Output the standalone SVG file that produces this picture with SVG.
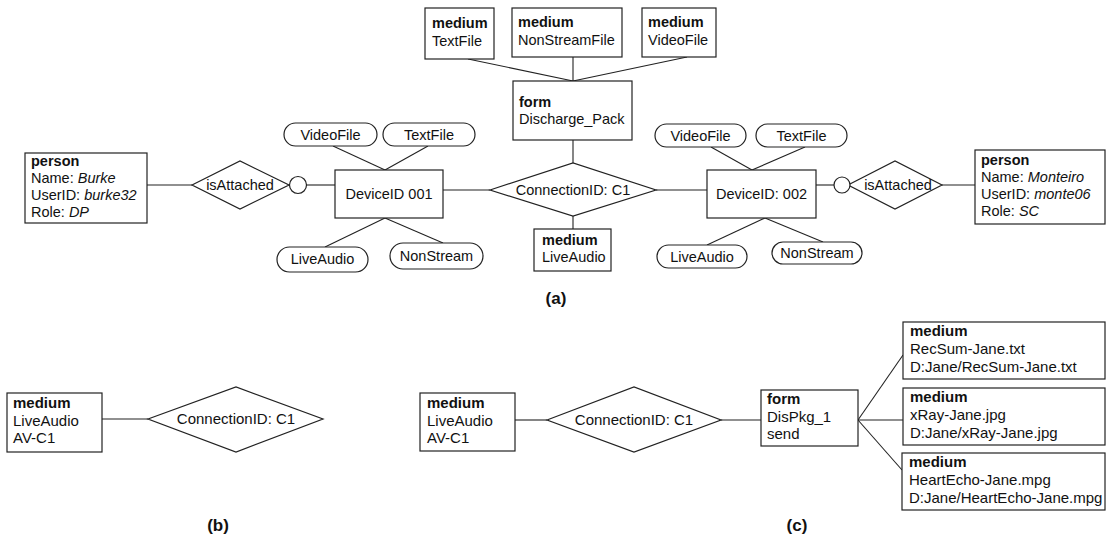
<svg xmlns="http://www.w3.org/2000/svg" width="1107" height="538" viewBox="0 0 1107 538">
<style>
.b{fill:#fff;stroke:#222;stroke-width:1.2}
.c line,.c path{stroke:#222;stroke-width:1.1;fill:none}
text{font-family:"Liberation Sans",Arial,sans-serif;font-size:14.5px;fill:#111}
.k{font-weight:bold}
.m{text-anchor:middle}
.i{font-style:italic}
.s text{font-size:15px}
.lab{font-weight:bold;font-size:17px;text-anchor:middle}
</style>
<rect width="1107" height="538" fill="#fff"/>
<g class="c" id="connectors">
<line x1="147" y1="185" x2="192" y2="185"/>
<line x1="306" y1="185" x2="335" y2="185"/>
<line x1="333" y1="146" x2="385" y2="170"/>
<line x1="428" y1="146" x2="385" y2="170"/>
<line x1="385" y1="218" x2="325" y2="247"/>
<line x1="385" y1="218" x2="443" y2="243"/>
<line x1="443" y1="190" x2="490" y2="190"/>
<line x1="656" y1="190" x2="707" y2="190"/>
<line x1="468" y1="59" x2="573" y2="81"/>
<line x1="573" y1="57" x2="573" y2="81"/>
<line x1="687" y1="57" x2="573" y2="81"/>
<line x1="573" y1="140" x2="573" y2="163"/>
<line x1="573" y1="216" x2="573" y2="229"/>
<line x1="711" y1="147" x2="752" y2="170"/>
<line x1="805" y1="147" x2="752" y2="170"/>
<line x1="765" y1="218" x2="707" y2="245"/>
<line x1="765" y1="218" x2="823" y2="242"/>
<line x1="816" y1="185" x2="834" y2="185"/>
<line x1="942" y1="185" x2="975" y2="185"/>
<line x1="102" y1="419" x2="148" y2="419"/>
<line x1="515" y1="420" x2="547" y2="420"/>
<line x1="721" y1="420" x2="761" y2="420"/>
<line x1="858" y1="420" x2="903" y2="355"/>
<line x1="858" y1="420" x2="903" y2="420"/>
<line x1="858" y1="420" x2="902" y2="470"/>
</g>
<g id="person-burke"><rect class="b" x="25" y="153" width="122" height="70"/>
<text x="31" y="166" class="k">person</text><text x="31" y="183">Name: <tspan class="i">Burke</tspan></text><text x="31" y="200">UserID: <tspan class="i">burke32</tspan></text><text x="31" y="217">Role: <tspan class="i">DP</tspan></text></g>
<g id="isAttached-left"><polygon class="b" points="192,185 240,161 289,185 240,209"/><text x="240" y="190" class="m">isAttached</text></g>
<g id="circle-left"><circle class="b" cx="298" cy="185" r="8.5"/></g>
<g id="device-001"><rect class="b" x="335" y="170" width="108" height="48"/><text x="389" y="199" class="m">DeviceID 001</text></g>
<g id="e-video-1"><rect class="b" x="284" y="123" width="93" height="23" rx="11.5"/><text x="330.5" y="140" class="m">VideoFile</text></g>
<g id="e-text-1"><rect class="b" x="383" y="123" width="92" height="23" rx="11.5"/><text x="429" y="140" class="m">TextFile</text></g>
<g id="e-live-1"><rect class="b" x="277" y="247" width="91" height="25" rx="12.5"/><text x="322.5" y="264" class="m">LiveAudio</text></g>
<g id="e-non-1"><rect class="b" x="390" y="243" width="93" height="26" rx="13"/><text x="436.5" y="261" class="m">NonStream</text></g>
<g id="medium-textfile"><rect class="b" x="425" y="8" width="69" height="51"/><text x="432" y="28" class="k">medium</text><text x="432" y="46">TextFile</text></g>
<g id="medium-nonstreamfile"><rect class="b" x="512" y="8" width="110" height="49"/><text x="518" y="27" class="k">medium</text><text x="518" y="45">NonStreamFile</text></g>
<g id="medium-videofile"><rect class="b" x="642" y="8" width="74" height="49"/><text x="648" y="27" class="k">medium</text><text x="648" y="45">VideoFile</text></g>
<g id="form-discharge"><rect class="b" x="513" y="81" width="119" height="59"/><text x="519" y="107" class="k">form</text><text x="519" y="124">Discharge_Pack</text></g>
<g id="conn-a"><polygon class="b" points="490,190 573,163 656,190 573,216"/><text x="573" y="195" class="m">ConnectionID: C1</text></g>
<g id="medium-liveaudio-a"><rect class="b" x="534" y="229" width="77" height="42"/><text x="542" y="245" class="k">medium</text><text x="542" y="262">LiveAudio</text></g>
<g id="device-002"><rect class="b" x="707" y="170" width="109" height="48"/><text x="761.5" y="199" class="m">DeviceID: 002</text></g>
<g id="e-video-2"><rect class="b" x="655" y="124" width="91" height="23" rx="11.5"/><text x="700.5" y="141" class="m">VideoFile</text></g>
<g id="e-text-2"><rect class="b" x="756" y="124" width="91" height="23" rx="11.5"/><text x="801.5" y="141" class="m">TextFile</text></g>
<g id="e-live-2"><rect class="b" x="657" y="245" width="90" height="23" rx="11.5"/><text x="702" y="262" class="m">LiveAudio</text></g>
<g id="e-non-2"><rect class="b" x="772" y="242" width="90" height="22" rx="11"/><text x="817" y="258" class="m">NonStream</text></g>
<g id="isAttached-right"><polygon class="b" points="848,185 895,161 942,185 895,209"/><text x="898" y="190" class="m">isAttached</text></g>
<g id="circle-right"><circle class="b" cx="842" cy="185" r="8"/></g>
<g id="person-monteiro"><rect class="b" x="975" y="150" width="130" height="74"/>
<text x="981" y="165" class="k">person</text><text x="981" y="182">Name: <tspan class="i">Monteiro</tspan></text><text x="981" y="199">UserID: <tspan class="i">monte06</tspan></text><text x="981" y="216">Role: <tspan class="i">SC</tspan></text></g>
<text x="556" y="304" class="lab">(a)</text>
<g id="medium-liveaudio-b" class="s"><rect class="b" x="7" y="393" width="95" height="59"/><text x="13" y="408" class="k">medium</text><text x="13" y="426">LiveAudio</text><text x="13" y="443">AV-C1</text></g>
<g id="conn-b" class="s"><polygon class="b" points="148,419 236,387 323,419 236,452"/><text x="236" y="424" class="m">ConnectionID: C1</text></g>
<text x="218" y="531" class="lab">(b)</text>
<g id="medium-liveaudio-c" class="s"><rect class="b" x="420" y="393" width="95" height="58"/><text x="427" y="408" class="k">medium</text><text x="427" y="426">LiveAudio</text><text x="427" y="443">AV-C1</text></g>
<g id="conn-c" class="s"><polygon class="b" points="547,420 634,387 721,420 634,452"/><text x="634" y="425" class="m">ConnectionID: C1</text></g>
<g id="form-dispkg" class="s"><rect class="b" x="761" y="390" width="97" height="56"/><text x="767" y="404" class="k">form</text><text x="767" y="422">DisPkg_1</text><text x="767" y="439">send</text></g>
<g id="medium-recsum" class="s"><rect class="b" x="903" y="322" width="202" height="57"/><text x="910" y="336" class="k">medium</text><text x="910" y="354">RecSum-Jane.txt</text><text x="910" y="372">D:Jane/RecSum-Jane.txt</text></g>
<g id="medium-xray" class="s"><rect class="b" x="903" y="388" width="202" height="57"/><text x="910" y="402" class="k">medium</text><text x="910" y="420">xRay-Jane.jpg</text><text x="910" y="438">D:Jane/xRay-Jane.jpg</text></g>
<g id="medium-heartecho" class="s"><rect class="b" x="902" y="453" width="203" height="57"/><text x="909" y="467" class="k">medium</text><text x="909" y="485">HeartEcho-Jane.mpg</text><text x="909" y="503">D:Jane/HeartEcho-Jane.mpg</text></g>
<text x="797" y="531" class="lab">(c)</text>
</svg>
